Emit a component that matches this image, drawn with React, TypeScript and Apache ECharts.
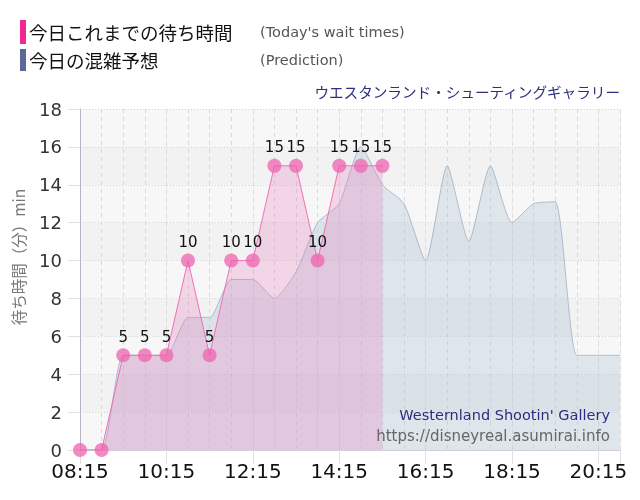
import React, { useEffect, useRef } from "react";
import * as echarts from "echarts";

const actualTimes = ["08:15","08:45","09:15","09:45","10:15","10:45","11:15","11:45","12:15","12:45","13:15","13:45","14:15","14:45","15:15"];
const actualWait = [0,0,5,5,5,10,5,10,10,15,15,10,15,15,15];

const predTimes = ["08:15","08:45","09:15","09:45","10:15","10:45","11:15","11:45","12:15","12:45","13:15","13:45","14:15","14:45","15:15","15:45","16:15","16:45","17:15","17:45","18:15","18:45","19:15","19:45","20:15","20:45"];
const predWait = [0,0,5,5,5,7,7,9,9,8,9.4,12,13,16,14,13,10,15,11,15,12,13,13.1,5,5,5];

const yTicks = [0,2,4,6,8,10,12,14,16,18];
const xStart = "08:15";
const xEnd = "20:45";

const legendMain = "今日これまでの待ち時間";
const legendMainEn = "(Today's wait times)";
const legendPred = "今日の混雑予想";
const legendPredEn = "(Prediction)";
const attractionJa = "ウエスタンランド・シューティングギャラリー";
const attractionEn = "Westernland Shootin' Gallery";
const siteUrl = "https://disneyreal.asumirai.info";
const yName = "待ち時間（分）min";

const toMin = (t: string) => {
  const [h, m] = t.split(":").map(Number);
  return h * 60 + m;
};
const base = toMin(xStart);
const fmt = (v: number) => {
  const t = v + base;
  const h = Math.floor(t / 60);
  const m = t % 60;
  return `${String(h).padStart(2, "0")}:${String(m).padStart(2, "0")}`;
};

export default function App() {
  const ref = useRef<HTMLDivElement>(null);
  useEffect(() => {
    if (!ref.current) return;
    const chart = echarts.init(ref.current, null, { renderer: "svg" });
    const actualData = actualTimes.map((t, i) => [toMin(t) - base, actualWait[i]]);
    const predData = predTimes.map((t, i) => [toMin(t) - base, predWait[i]]);
    const xMax = toMin(xEnd) - base;
    const latin = "DejaVu Sans";
    const cjk = "Noto Sans CJK JP";
    chart.setOption({
      animation: false,
      grid: {
        left: 80, right: 20, top: 109, bottom: 50,
        show: true, backgroundColor: "#f5f5f5", borderWidth: 0,
      },
      xAxis: [
        {
          type: "value", min: 0, max: xMax, interval: 30,
          axisLine: { show: true, lineStyle: { color: "#d0d0d8" } },
          axisTick: { show: false },
          axisLabel: { show: false },
          splitLine: { show: true, lineStyle: { color: "#d9d9d9", type: [4, 4], width: 1 } },
        },
        {
          type: "value", min: 0, max: xMax, interval: 120, position: "bottom",
          axisLine: { show: false },
          axisTick: { show: true, length: 14, lineStyle: { color: "#e0e0e0" } },
          axisLabel: {
            show: true, margin: 11, fontSize: 20, lineHeight: 20, color: "#111", fontFamily: latin,
            formatter: (v: number) => (v % 120 === 0 ? fmt(v) : ""),
          },
          splitLine: { show: true, lineStyle: { color: "#e2e2e2", type: [1, 1], width: 1 } },
        },
      ],
      yAxis: {
        type: "value", min: yTicks[0], max: yTicks[yTicks.length - 1], interval: yTicks[1] - yTicks[0],
        axisLine: { show: true, lineStyle: { color: "#b4b4c4" } },
        axisTick: { show: true, length: 12, lineStyle: { color: "#e0e0e0" } },
        axisLabel: { fontSize: 18, lineHeight: 18, color: "#333", fontFamily: latin, margin: 18 },
        splitLine: { show: true, lineStyle: { color: "#d4d4d4", type: [1, 2], width: 1 } },
        splitArea: { show: true, areaStyle: { color: ["#f7f7f7", "#f2f2f2"] } },
      },
      series: [
        {
          type: "line", xAxisIndex: 0, data: predData, smooth: 0.2, symbol: "none",
          lineStyle: { color: "rgba(150,170,190,0.7)", width: 1 },
          areaStyle: { color: "rgba(175,196,212,0.5)" },
          z: 2,
        },
        {
          type: "line", xAxisIndex: 0, data: actualData, smooth: false,
          symbol: "circle", symbolSize: 14,
          lineStyle: { color: "#f070b8", width: 1 },
          itemStyle: { color: "rgba(238,100,175,0.75)" },
          areaStyle: { color: "rgba(232,120,190,0.38)" },
          label: {
            show: true, position: "top", distance: 4, fontSize: 15, color: "#111", fontFamily: latin,
            formatter: (p: any) => (p.value[1] > 0 ? String(p.value[1]) : ""),
          },
          z: 3,
        },
      ],
      graphic: [
        { type: "rect", shape: { x: 20, y: 20, width: 6, height: 24 }, style: { fill: "#f0288f" } },
        { type: "rect", shape: { x: 20, y: 49, width: 6, height: 22 }, style: { fill: "#5b6a9b" } },
        { type: "text", x: 29, y: 32, style: { text: legendMain, font: `18.5px "${cjk}"`, fill: "#111", verticalAlign: "middle" } },
        { type: "text", x: 260, y: 32, style: { text: legendMainEn, font: `14.5px "${latin}"`, fill: "#555", verticalAlign: "middle" } },
        { type: "text", x: 29, y: 60, style: { text: legendPred, font: `18.5px "${cjk}"`, fill: "#111", verticalAlign: "middle" } },
        { type: "text", x: 260, y: 60, style: { text: legendPredEn, font: `14.5px "${latin}"`, fill: "#555", verticalAlign: "middle" } },
        { type: "text", x: 620, y: 91, style: { text: attractionJa, font: `14.6px "${cjk}"`, fill: "#2b2f7d", align: "right", verticalAlign: "middle" } },
        { type: "text", x: 610, y: 415, z: 10, style: { text: attractionEn, font: `14.5px "${latin}"`, fill: "#2b2f7d", align: "right", verticalAlign: "middle" } },
        { type: "text", x: 610, y: 436, z: 10, style: { text: siteUrl, font: `15px "${latin}"`, fill: "#666", align: "right", verticalAlign: "middle" } },
        { type: "text", x: 18, y: 257, rotation: Math.PI / 2, style: { text: yName, font: `15.5px "${cjk}"`, fill: "#777", align: "center", verticalAlign: "middle" } },
      ],
    });
    return () => chart.dispose();
  }, []);
  return <div ref={ref} style={{ position: "fixed", left: 0, top: 0, width: 640, height: 500 }} />;
}
